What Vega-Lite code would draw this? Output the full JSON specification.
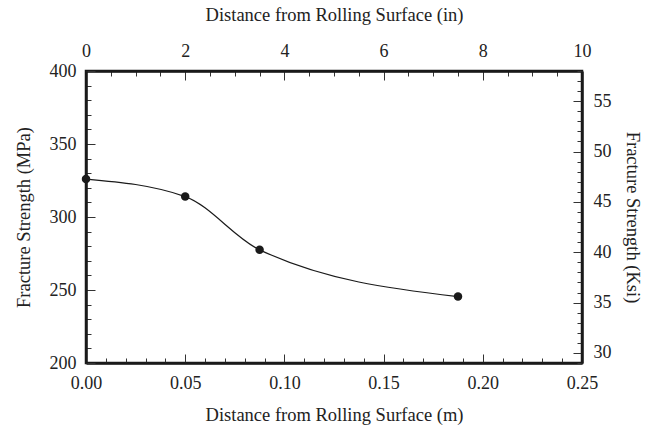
{
  "$schema": "https://vega.github.io/schema/vega-lite/v6.json",
  "description": "Fracture strength vs distance from rolling surface, metric and imperial axes.",
  "autosize": {"type": "none"},
  "padding": {"left": 86, "top": 71, "right": 64, "bottom": 68},
  "width": 496,
  "height": 292,
  "background": "white",
  "config": {
    "font": "Liberation Serif",
    "view": {"stroke": "#1a1a1a", "strokeWidth": 2.5},
    "axis": {
      "labelFont": "Liberation Serif",
      "labelFontSize": 18,
      "labelColor": "#222",
      "labelFlush": false,
      "titleFont": "Liberation Serif",
      "titleFontSize": 18.5,
      "titleFontWeight": "normal",
      "titleColor": "#222",
      "domainColor": "#1a1a1a",
      "domainWidth": 2.5,
      "tickColor": "#333",
      "tickWidth": 1,
      "grid": false,
      "labelOverlap": false
    }
  },
  "data": {
    "values": [
      {"m": 0.0, "mpa": 326, "in": 0.0, "ksi": 47.3},
      {"m": 0.05, "mpa": 314, "in": 2.0, "ksi": 45.5},
      {"m": 0.0875, "mpa": 277.5, "in": 3.5, "ksi": 40.2},
      {"m": 0.1875, "mpa": 245.5, "in": 7.5, "ksi": 35.6}
    ]
  },
  "layer": [
    {
      "encoding": {
        "x": {
          "field": "m",
          "type": "quantitative",
          "scale": {"domain": [0, 0.25], "nice": false},
          "axis": {
            "orient": "bottom",
            "title": "Distance from Rolling Surface (m)",
            "values": [0, 0.01, 0.02, 0.03, 0.04, 0.05, 0.06, 0.07, 0.08, 0.09, 0.1, 0.11, 0.12, 0.13, 0.14, 0.15, 0.16, 0.17, 0.18, 0.19, 0.2, 0.21, 0.22, 0.23, 0.24, 0.25],
            "labelExpr": "abs(datum.value * 20 - round(datum.value * 20)) < 0.001 ? format(datum.value, '.2f') : ''",
            "labelFlush": false,
            "tickSize": {"condition": {"test": "abs(datum.value * 20 - round(datum.value * 20)) < 0.001", "value": -9}, "value": -5},
            "labelPadding": 20,
            "titlePadding": 9
          }
        },
        "y": {
          "field": "mpa",
          "type": "quantitative",
          "scale": {"domain": [200, 400], "nice": false},
          "axis": {
            "orient": "left",
            "title": "Fracture Strength (MPa)",
            "values": [200, 210, 220, 230, 240, 250, 260, 270, 280, 290, 300, 310, 320, 330, 340, 350, 360, 370, 380, 390, 400],
            "labelExpr": "datum.value % 50 == 0 ? datum.value : ''",
            "tickSize": {"condition": {"test": "datum.value % 50 == 0", "value": -9}, "value": -5},
            "labelPadding": 19,
            "titlePadding": 16
          }
        }
      },
      "layer": [
        {
          "mark": {"type": "line", "interpolate": "monotone", "color": "#1a1a1a", "strokeWidth": 1.2}
        },
        {
          "mark": {"type": "circle", "color": "#1a1a1a", "opacity": 1, "size": 72}
        }
      ]
    },
    {
      "mark": {"type": "point", "opacity": 0},
      "encoding": {
        "x": {
          "field": "in",
          "type": "quantitative",
          "scale": {"domain": [0, 10], "nice": false},
          "axis": {
            "orient": "top",
            "title": "Distance from Rolling Surface (in)",
            "values": [0, 0.5, 1, 1.5, 2, 2.5, 3, 3.5, 4, 4.5, 5, 5.5, 6, 6.5, 7, 7.5, 8, 8.5, 9, 9.5, 10],
            "labelExpr": "datum.value % 2 == 0 ? datum.value : ''",
            "labelFlush": false,
            "tickSize": {"condition": {"test": "datum.value % 2 == 0", "value": -9}, "value": -5},
            "labelPadding": 20,
            "titlePadding": 14
          }
        },
        "y": {
          "field": "ksi",
          "type": "quantitative",
          "scale": {"domain": [29, 58], "nice": false},
          "axis": {
            "orient": "right",
            "title": "Fracture Strength (Ksi)",
            "values": [29, 30, 31, 32, 33, 34, 35, 36, 37, 38, 39, 40, 41, 42, 43, 44, 45, 46, 47, 48, 49, 50, 51, 52, 53, 54, 55, 56, 57, 58],
            "labelExpr": "datum.value % 5 == 0 ? datum.value : ''",
            "tickSize": {"condition": {"test": "datum.value % 5 == 0", "value": -9}, "value": -5},
            "labelPadding": 20,
            "titlePadding": 11
          }
        }
      }
    }
  ],
  "resolve": {"scale": {"x": "independent", "y": "independent"}}
}
